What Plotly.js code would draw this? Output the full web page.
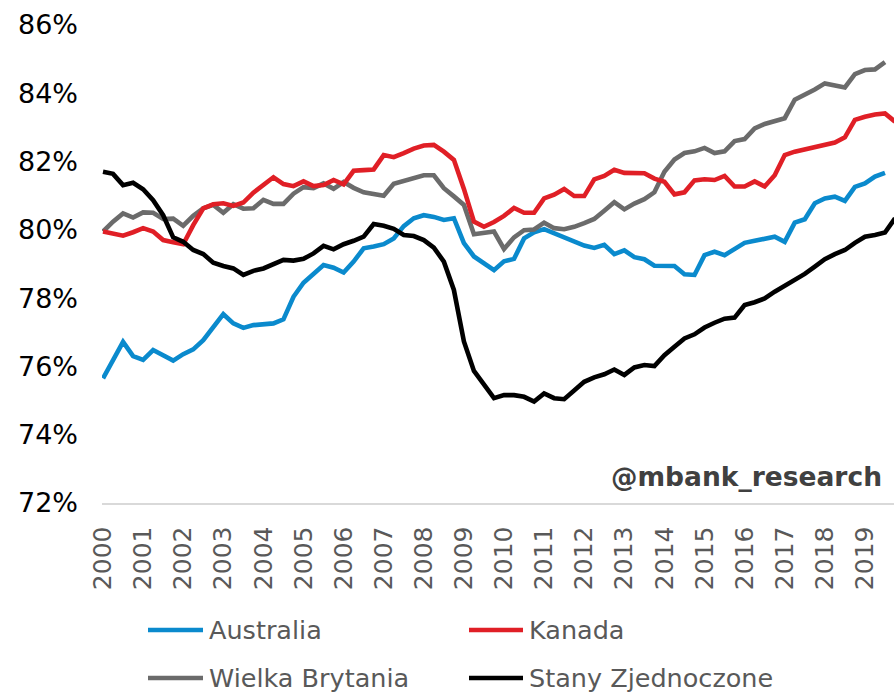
<!DOCTYPE html>
<html><head><meta charset="utf-8">
<script src="https://cdn.plot.ly/plotly-3.0.1.min.js"></script>
<style>html,body{margin:0;padding:0;background:#fff;overflow:hidden}</style>
</head><body><div id="chart" style="width:894px;height:693px"></div>
<script>
// ---- data (quarterly, 2000 Q1 onward) ----
const seriesNames = ['Australia', 'Kanada', 'Wielka Brytania', 'Stany Zjednoczone'];
const yearLabels = ['2000','2001','2002','2003','2004','2005','2006','2007','2008','2009',
                    '2010','2011','2012','2013','2014','2015','2016','2017','2018','2019'];

const australia = [
  75.65, 76.19, 76.72, 76.30, 76.19, 76.48, 76.31, 76.17, 76.36, 76.50,
  76.77, 77.15, 77.53, 77.26, 77.13, 77.21, 77.23, 77.26, 77.38, 78.04,
  78.45, 78.71, 78.97, 78.89, 78.75, 79.07, 79.46, 79.51, 79.58, 79.75,
  80.11, 80.34, 80.43, 80.38, 80.29, 80.34, 79.61, 79.22, 79.03, 78.82,
  79.08, 79.15, 79.75, 79.93, 80.02, 79.90, 79.75, 79.65, 79.54, 79.47,
  79.56, 79.29, 79.40, 79.20, 79.14, 78.95, 78.94, 78.94, 78.70, 78.68,
  79.26, 79.36, 79.26, 79.43, 79.62, 79.68, 79.73, 79.80, 79.65, 80.21,
  80.31, 80.78, 80.92, 80.97, 80.85, 81.26, 81.36, 81.56, 81.67
];
const kanada = [
  79.95, 79.90, 79.83, 79.93, 80.05, 79.95, 79.70, 79.64, 79.58, 80.14,
  80.63, 80.75, 80.78, 80.70, 80.80, 81.09, 81.31, 81.54, 81.34, 81.28,
  81.42, 81.28, 81.31, 81.46, 81.33, 81.73, 81.75, 81.77, 82.19, 82.13,
  82.25, 82.38, 82.47, 82.49, 82.29, 82.05, 81.20, 80.24, 80.09, 80.23,
  80.41, 80.64, 80.50, 80.50, 80.92, 81.03, 81.20, 80.99, 80.99, 81.48,
  81.58, 81.76, 81.67, 81.67, 81.66, 81.50, 81.41, 81.04, 81.10, 81.45,
  81.48, 81.46, 81.58, 81.27, 81.27, 81.42, 81.27, 81.60, 82.19, 82.29,
  82.36, 82.44, 82.49, 82.56, 82.71, 83.22, 83.31, 83.38, 83.41, 83.17
];
const wielkaBrytania = [
  79.95, 80.24, 80.48, 80.36, 80.51, 80.50, 80.32, 80.33, 80.12, 80.41,
  80.63, 80.73, 80.50, 80.75, 80.62, 80.63, 80.88, 80.76, 80.76, 81.06,
  81.25, 81.22, 81.36, 81.20, 81.40, 81.23, 81.10, 81.05, 81.00, 81.35,
  81.43, 81.50, 81.60, 81.60, 81.22, 80.98, 80.73, 79.87, 79.91, 79.95,
  79.44, 79.78, 79.99, 80.01, 80.21, 80.05, 80.02, 80.09, 80.20, 80.32,
  80.56, 80.81, 80.60, 80.77, 80.90, 81.10, 81.70, 82.06, 82.25, 82.30,
  82.40, 82.25, 82.30, 82.60, 82.66, 82.97, 83.10, 83.17, 83.27, 83.81,
  83.95, 84.11, 84.29, 84.24, 84.17, 84.56, 84.68, 84.70, 84.91
];
const stanyZjednoczone = [
  81.70, 81.64, 81.31, 81.38, 81.19, 80.87, 80.43, 79.78, 79.65, 79.41,
  79.29, 79.04, 78.94, 78.87, 78.68, 78.80, 78.87, 79.00, 79.12, 79.10,
  79.15, 79.31, 79.53, 79.43, 79.58, 79.68, 79.80, 80.17, 80.12, 80.03,
  79.85, 79.82, 79.70, 79.48, 79.07, 78.24, 76.73, 75.87, 75.48, 75.07,
  75.16, 75.16, 75.11, 74.97, 75.21, 75.07, 75.04, 75.29, 75.55, 75.68,
  75.77, 75.91, 75.75, 75.97, 76.04, 76.01, 76.33, 76.58, 76.82, 76.94,
  77.14, 77.28, 77.40, 77.43, 77.80, 77.88, 77.99, 78.19, 78.36, 78.53,
  78.71, 78.92, 79.14, 79.29, 79.41, 79.62, 79.80, 79.85, 79.92, 80.34
];
const yTicks = [72, 74, 76, 78, 80, 82, 84, 86];

// ---- chart ----
const values = [australia, kanada, wielkaBrytania, stanyZjednoczone];
const colors = ['#0a8acd', '#e01f26', '#6b6b6b', '#000000'];
const FONT = 'DejaVu Sans, Verdana, sans-serif';

const qIndex = arr => arr.map((_, i) => i);
const traces = values.map((v, k) => ({
  type: 'scatter', mode: 'lines', name: seriesNames[k],
  x: qIndex(v), y: v,
  line: {color: colors[k], width: 4.6, shape: 'linear'},
  showlegend: false, hoverinfo: 'skip'
}));
// draw order: blue, gray, red, black (black on top)
const ordered = [traces[0], traces[2], traces[1], traces[3]];

// layout geometry (pixels)
const L = 102, R = 894, T = 25, B = 503, W = 894, H = 693;
const px = p => (p - L) / (R - L);
const py = p => (B - p) / (B - T);

const legendPos = [
  {x0: 148, x1: 203, tx: 207, y: 630},
  {x0: 469, x1: 523, tx: 527, y: 630},
  {x0: 148, x1: 203, tx: 207, y: 678},
  {x0: 469, x1: 523, tx: 527, y: 678}
];
const shapes = legendPos.map((p, k) => ({
  type: 'line', xref: 'paper', yref: 'paper',
  x0: px(p.x0), x1: px(p.x1), y0: py(p.y), y1: py(p.y),
  line: {color: colors[k], width: 4.6}
}));
const annotations = legendPos.map((p, k) => ({
  xref: 'paper', yref: 'paper', x: px(p.tx), y: py(p.y),
  xanchor: 'left', yanchor: 'middle', showarrow: false,
  text: seriesNames[k], font: {family: FONT, size: 25.5, color: '#595959'}
}));
annotations.push({
  xref: 'paper', yref: 'paper', x: px(884), y: py(476),
  xanchor: 'right', yanchor: 'middle', showarrow: false,
  text: '<b>@mbank_research</b>', font: {family: FONT, size: 26.5, color: '#404040'}
});

const tickIdx = yearLabels.map((_, i) => i * 4);

const layout = {
  width: W, height: H,
  margin: {l: L, r: W - R, t: T, b: H - B, pad: 0},
  paper_bgcolor: '#ffffff', plot_bgcolor: '#ffffff',
  showlegend: false,
  font: {family: FONT},
  xaxis: {
    range: [-0.1, 78.9], showgrid: false, zeroline: false,
    showline: true, linecolor: '#d9d9d9', linewidth: 1.5,
    tickmode: 'array', tickvals: tickIdx, ticktext: yearLabels,
    tickangle: -90, ticks: '', ticklabelstandoff: 12,
    tickfont: {family: FONT, size: 25, color: '#595959'}
  },
  yaxis: {
    range: [72, 86], showgrid: false, zeroline: false, showline: false,
    tickmode: 'array', tickvals: yTicks, ticktext: yTicks.map(v => v + '%'),
    ticks: '', ticklabelstandoff: 23,
    tickfont: {family: FONT, size: 27, color: '#000000'}
  },
  shapes: shapes,
  annotations: annotations
};

Plotly.newPlot('chart', ordered, layout, {staticPlot: true, displayModeBar: false});
</script>
</body></html>
